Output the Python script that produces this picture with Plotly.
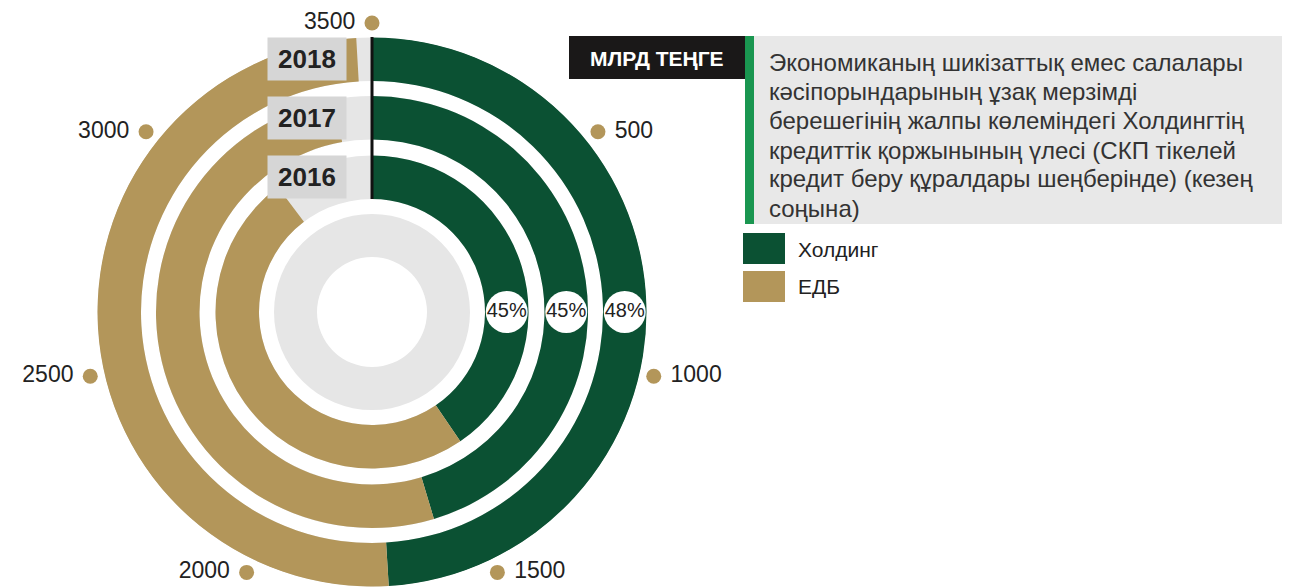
import math
import plotly.graph_objects as go

# ---------------- data ----------------
years = ["2016", "2017", "2018"]
holding = [1416, 1588, 1716]      # Холдинг, млрд теңге
edb = [1724, 1815, 1752]          # ЕДБ, млрд теңге
share_labels = ["45%", "45%", "48%"]
series_names = ["Холдинг", "ЕДБ"]
tick_values = [500, 1000, 1500, 2000, 2500, 3000, 3500]
unit_label = "МЛРД ТЕҢГЕ"
title_lines = [
    "Экономиканың шикізаттық емес салалары",
    "кәсіпорындарының ұзақ мерзімді",
    "берешегінің жалпы көлеміндегі Холдингтің",
    "кредиттік қоржынының үлесі (СКП тікелей",
    "кредит беру құралдары шеңберінде) (кезең",
    "соңына)",
]

# ---------------- style ----------------
OFF = 8                    # page offset of the plot div (body margin)
W, H = 1290 - OFF, 587 - OFF
CX, CY = 372 - OFF, 312 - OFF   # centre of the rings in figure px
R_MAX = 275
FULL = 3500                # value of a full turn
GREEN = "#0b5133"
GOLD = "#b3965a"
TRACK = "#e6e6e6"
BOX = "#d6d6d6"
TXT = "#222222"
FONT = "Liberation Sans, Arial, sans-serif"
ring_inner = [113, 172.5, 231]
ring_w = 43.5
R_LABEL = 289


def deg(v):
    return v * 360.0 / FULL


def px(x):      # page px -> figure px
    return x - OFF


fig = go.Figure()

# inner grey disc
fig.add_trace(go.Barpolar(theta=[180], width=[360], base=[55], r=[43],
                          marker=dict(color=TRACK, line=dict(width=0)),
                          hoverinfo="skip", showlegend=False))

for i, y in enumerate(years):
    base = ring_inner[i]
    fig.add_trace(go.Barpolar(theta=[180], width=[360], base=[base], r=[ring_w],
                              marker=dict(color=TRACK, line=dict(width=0)),
                              hoverinfo="skip", showlegend=False))
    a0, a1 = 0.0, deg(holding[i])
    a2 = deg(holding[i] + edb[i])
    fig.add_trace(go.Barpolar(theta=[(a0 + a1) / 2], width=[a1 - a0], base=[base], r=[ring_w],
                              marker=dict(color=GREEN, line=dict(width=0)),
                              name=series_names[0], showlegend=False,
                              hovertext=[f"{y}: {holding[i]}"], hoverinfo="text"))
    fig.add_trace(go.Barpolar(theta=[(a1 + a2) / 2], width=[a2 - a1], base=[base], r=[ring_w],
                              marker=dict(color=GOLD, line=dict(width=0)),
                              name=series_names[1], showlegend=False,
                              hovertext=[f"{y}: {edb[i]}"], hoverinfo="text"))

# black divider at zero
fig.add_trace(go.Scatterpolar(r=[ring_inner[0], R_MAX], theta=[0, 0], mode="lines",
                              line=dict(color="#111111", width=3),
                              hoverinfo="skip", showlegend=False, cliponaxis=False))

# percentage bubbles
fig.add_trace(go.Scatterpolar(r=[b + ring_w / 2 for b in ring_inner], theta=[90] * 3,
                              mode="markers+text", text=share_labels,
                              textposition="middle center",
                              textfont=dict(size=20, color=TXT, family=FONT),
                              marker=dict(size=42, color="white", line=dict(width=0)),
                              hoverinfo="skip", showlegend=False, cliponaxis=False))

# value ticks (gold dots) around the rings, on a pixel cartesian overlay
tx = [CX + R_LABEL * math.sin(math.radians(deg(v))) for v in tick_values]
ty = [CY - R_LABEL * math.cos(math.radians(deg(v))) for v in tick_values]
right = [deg(v) < 180 for v in tick_values]
fig.add_trace(go.Scatter(x=tx, y=ty, mode="markers+text",
                         text=[("\u00a0" + str(v)) if r else (str(v) + "\u00a0")
                               for v, r in zip(tick_values, right)],
                         textposition=["middle right" if r else "middle left" for r in right],
                         textfont=dict(size=23, color=TXT, family=FONT),
                         marker=dict(size=15, color=GOLD),
                         hoverinfo="skip", showlegend=False, cliponaxis=False))

fig.update_layout(
    width=W, height=H,
    margin=dict(l=0, r=0, t=0, b=0),
    paper_bgcolor="white",
    plot_bgcolor="rgba(0,0,0,0)",
    showlegend=False,
    xaxis=dict(range=[0, W], visible=False, domain=[0, 1], fixedrange=True),
    yaxis=dict(range=[H, 0], visible=False, domain=[0, 1], fixedrange=True),
    polar=dict(
        domain=dict(x=[(CX - R_MAX) / W, (CX + R_MAX) / W],
                    y=[max(0.0, (H - CY - R_MAX) / H), (H - CY + R_MAX) / H]),
        bgcolor="rgba(0,0,0,0)",
        barmode="overlay",
        hole=0,
        radialaxis=dict(range=[0, R_MAX], visible=False),
        angularaxis=dict(rotation=90, direction="clockwise", visible=False),
    ),
)

# year boxes at the top of each ring
for i, y in enumerate(years):
    ymid = CY - (ring_inner[i] + ring_w / 2)
    fig.add_annotation(x=px(307) / W, y=1 - ymid / H, xref="paper", yref="paper",
                       text=f"<b>{y}</b>", showarrow=False, bgcolor=BOX,
                       width=78, height=42, borderpad=0,
                       font=dict(size=26, color=TXT, family=FONT),
                       xanchor="center", yanchor="middle")


def page_rect(x0, y0, x1, y1, color):
    fig.add_shape(type="rect", xref="paper", yref="paper",
                  x0=px(x0) / W, x1=min(px(x1) / W, 1.0), y0=1 - px(y1) / H, y1=1 - px(y0) / H,
                  fillcolor=color, line=dict(width=0), layer="below")


page_rect(569, 36, 745, 79, "#1a1818")
page_rect(745, 36, 754, 224, "#1a9650")
page_rect(754, 36, 1400, 224, "#e8e8e8")

fig.add_annotation(x=px(657) / W, y=1 - px(58) / H, xref="paper", yref="paper",
                   text=f"<b>{unit_label}</b>", showarrow=False,
                   font=dict(size=21, color="white", family=FONT),
                   xanchor="center", yanchor="middle")
for k, line in enumerate(title_lines):
    fig.add_annotation(x=px(767) / W, y=1 - px(63 + 29 * k) / H, xref="paper", yref="paper",
                       text=line, showarrow=False, align="left",
                       font=dict(size=24, color="#333333", family=FONT),
                       xanchor="left", yanchor="middle")

# legend
for k, (name, col) in enumerate(zip(series_names, [GREEN, GOLD])):
    y0 = 233 + k * 38
    page_rect(743, y0, 785, y0 + 31, col)
    fig.add_annotation(x=px(796) / W, y=1 - px(y0 + 16) / H, xref="paper", yref="paper",
                       text=name, showarrow=False,
                       font=dict(size=21, color=TXT, family=FONT),
                       xanchor="left", yanchor="middle")

fig.write_html("out.html")
